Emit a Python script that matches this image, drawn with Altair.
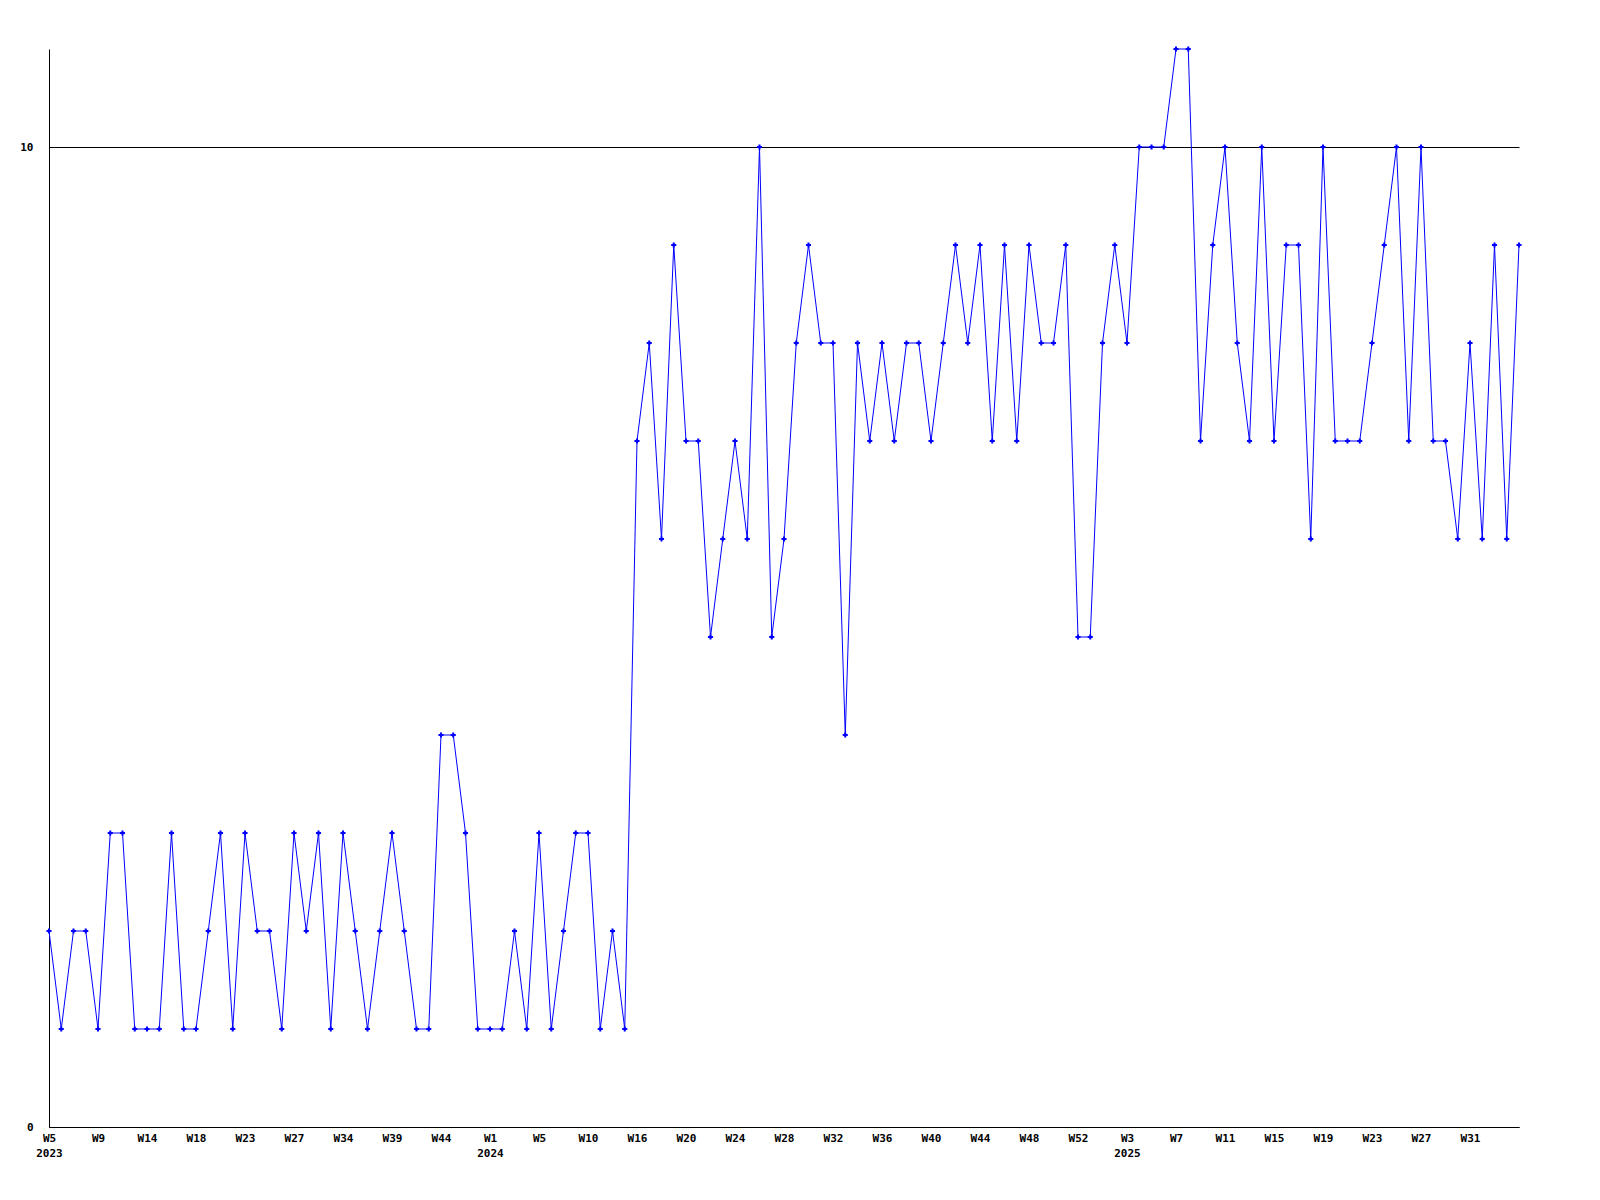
import altair as alt
import pandas as pd

values = [2, 1, 2, 2, 1, 3, 3, 1, 1, 1, 3, 1, 1, 2, 3, 1, 3, 2, 2, 1,
          3, 2, 3, 1, 3, 2, 1, 2, 3, 2, 1, 1, 4, 4, 3, 1, 1, 1, 2, 1,
          3, 1, 2, 3, 3, 1, 2, 1, 7, 8, 6, 9, 7, 7, 5, 6, 7, 6, 10, 5,
          6, 8, 9, 8, 8, 4, 8, 7, 8, 7, 8, 8, 7, 8, 9, 8, 9, 7, 9, 7,
          9, 8, 8, 9, 5, 5, 8, 9, 8, 10, 10, 10, 11, 11, 7, 9, 10, 8, 7, 10,
          7, 9, 9, 6, 10, 7, 7, 7, 8, 9, 10, 7, 10, 7, 7, 6, 8, 6, 9, 6, 9]

tick_labels = ["W5", "W9", "W14", "W18", "W23", "W27", "W34", "W39", "W44", "W1",
               "W5", "W10", "W16", "W20", "W24", "W28", "W32", "W36", "W40", "W44",
               "W48", "W52", "W3", "W7", "W11", "W15", "W19", "W23", "W27", "W31"]
year_labels = {0: "2023", 9: "2024", 22: "2025"}
label_step = 4

df = pd.DataFrame({"i": list(range(len(values))), "v": values})

parts = []
for k, lab in enumerate(tick_labels):
    if k in year_labels:
        parts.append("['%s','%s']" % (lab, year_labels[k]))
    else:
        parts.append("['%s']" % lab)
label_expr = "[" + ",".join(parts) + "][round(datum.value/%d)]" % label_step
tick_vals = [k * label_step for k in range(len(tick_labels))]

FONT = "DejaVu Sans Mono"

base = alt.Chart(df).encode(
    x=alt.X("i:Q",
            scale=alt.Scale(domain=[0, len(values) - 1], nice=False, zero=False),
            axis=alt.Axis(values=tick_vals, labelExpr=label_expr, title=None,
                          ticks=False, grid=False, domainColor="black",
                          labelColor="black", labelFont=FONT, labelFontSize=11,
                          labelFontWeight="bold", labelPadding=5,
                          labelLineHeight=15, labelFlush=False,
                          labelOverlap=False, labelAlign="center")),
    y=alt.Y("v:Q",
            scale=alt.Scale(domain=[0, 11], nice=False),
            axis=alt.Axis(values=[0, 10], title=None, ticks=False, grid=True,
                          gridColor="black", gridOpacity=1, gridWidth=1,
                          domainColor="black", labelColor="black",
                          labelFont=FONT, labelFontSize=11,
                          labelFontWeight="bold", labelPadding=16)),
)

line = base.mark_line(color="#0000ff", strokeWidth=1)
pts = base.mark_point(shape="cross", size=26, filled=True, color="#0000ff", opacity=1)

chart = (line + pts).properties(
    width=1470, height=1078,
    background="white",
    padding={"left": 41, "top": 41, "right": 40, "bottom": 40},
    autosize=alt.AutoSizeParams(type="none"),
).configure_view(stroke="transparent", strokeWidth=0)

chart.save("out.html", embed_options={"renderer": "svg", "actions": False})
